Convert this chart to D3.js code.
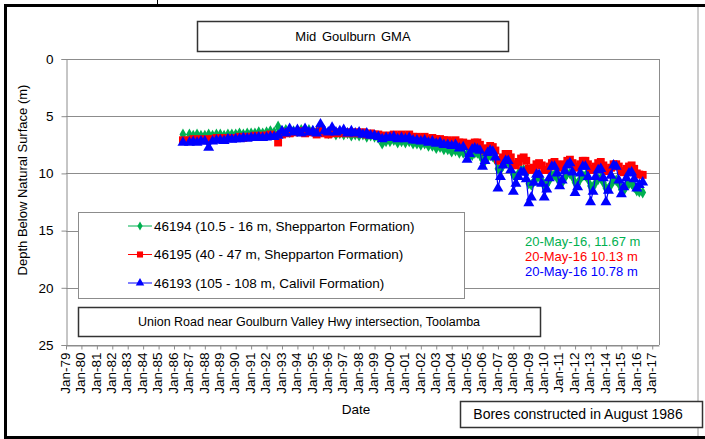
<!DOCTYPE html>
<html>
<head>
<meta charset="utf-8">
<script src="https://cdn.jsdelivr.net/npm/d3@7"></script>
<style>
  body { margin: 0; background: #fff; }
  svg { display: block; font-family: 'Liberation Sans', Arial, sans-serif; }
</style>
</head>
<body>
<div class="chart"></div>
<script>
// sample dates (quarterly to 2004, then every second month)
const dates = [
  '1986-08',
  '1987-01', '1987-04', '1987-07', '1987-10',
  '1988-01', '1988-04', '1988-07', '1988-10',
  '1989-01', '1989-04', '1989-07', '1989-10',
  '1990-01', '1990-04', '1990-07', '1990-10',
  '1991-01', '1991-04', '1991-07', '1991-10',
  '1992-01', '1992-04', '1992-07', '1992-10',
  '1993-01', '1993-04', '1993-07', '1993-10',
  '1994-01', '1994-04', '1994-07', '1994-10',
  '1995-01', '1995-04', '1995-07', '1995-10',
  '1996-01', '1996-04', '1996-07', '1996-10',
  '1997-01', '1997-04', '1997-07', '1997-10',
  '1998-01', '1998-04', '1998-07', '1998-10',
  '1999-01', '1999-04', '1999-07', '1999-10',
  '2000-01', '2000-04', '2000-07', '2000-10',
  '2001-01', '2001-04', '2001-07', '2001-10',
  '2002-01', '2002-04', '2002-07', '2002-10',
  '2003-01', '2003-04', '2003-07', '2003-10',
  '2004-01', '2004-04', '2004-07', '2004-10',
  '2005-01', '2005-03', '2005-05', '2005-07', '2005-09', '2005-11',
  '2006-01', '2006-03', '2006-05', '2006-07', '2006-09', '2006-11',
  '2007-01', '2007-03', '2007-05', '2007-07', '2007-09', '2007-11',
  '2008-01', '2008-03', '2008-05', '2008-07', '2008-09', '2008-11',
  '2009-01', '2009-03', '2009-05', '2009-07', '2009-09', '2009-11',
  '2010-01', '2010-03', '2010-05', '2010-07', '2010-09', '2010-11',
  '2011-01', '2011-03', '2011-05', '2011-07', '2011-09', '2011-11',
  '2012-01', '2012-03', '2012-05', '2012-07', '2012-09', '2012-11',
  '2013-01', '2013-03', '2013-05', '2013-07', '2013-09', '2013-11',
  '2014-01', '2014-03', '2014-05', '2014-07', '2014-09', '2014-11',
  '2015-01', '2015-03', '2015-05', '2015-07', '2015-09', '2015-11',
  '2016-01', '2016-03', '2016-05-20'
];

// 46194 (10.5 - 16 m, Shepparton Formation)
const bore46194 = [
  6.6,
  6.6, 6.7, 6.6, 6.7,
  6.7, 6.6, 6.7, 6.6,
  6.6, 6.7, 6.6, 6.6,
  6.6, 6.5, 6.6, 6.5,
  6.5, 6.5, 6.4, 6.5,
  6.4, 6.3, 6.4, 5.9,
  6.3, 6.2, 6.4, 6.3,
  6.3, 6.2, 6.3, 6.2,
  6.3, 6.4, 6.2, 6.3,
  6.5, 6.4, 6.6, 6.5,
  6.6, 6.5, 6.7, 6.6,
  6.7, 6.6, 6.8, 6.7,
  6.8, 6.9, 7.4, 7.2,
  7.2, 7.1, 7.3, 7.2,
  7.3, 7.2, 7.4, 7.4,
  7.5, 7.4, 7.6, 7.6,
  7.8, 7.7, 7.9, 7.9,
  8.1, 8.0, 8.2, 8.2,
  8.3, 8.5, 8.4, 8.2, 8.2, 8.4,
  8.8, 8.9, 8.6, 8.4, 8.5, 8.8,
  9.6, 9.7, 9.3, 9.0, 9.0, 9.4,
  10.1, 10.3, 10.0, 9.7, 9.7, 10.0,
  10.9, 11.0, 10.7, 10.4, 10.3, 10.6,
  11.0, 11.0, 10.6, 10.2, 10.1, 10.4,
  10.7, 10.8, 10.4, 10.0, 10.0, 10.3,
  10.8, 10.9, 10.5, 10.2, 10.2, 10.5,
  11.1, 11.2, 10.8, 10.5, 10.4, 10.8,
  11.3, 11.3, 11.0, 10.6, 10.6, 10.9,
  11.4, 11.5, 11.1, 10.9, 10.9, 11.2,
  11.5, 11.6, 11.67
];

// 46195 (40 - 47 m, Shepparton Formation)
const bore46195 = [
  7.1,
  7.1, 7.0, 7.1, 7.0,
  7.1, 7.0, 7.0, 6.9,
  6.9, 7.0, 6.9, 6.9,
  6.9, 6.8, 6.9, 6.8,
  6.8, 6.7, 6.8, 6.7,
  6.7, 6.6, 6.7, 7.3,
  6.6, 6.4, 6.5, 6.4,
  6.4, 6.3, 6.5, 6.4,
  6.4, 6.6, 6.3, 6.5,
  6.6, 6.4, 6.5, 6.4,
  6.5, 6.4, 6.5, 6.4,
  6.5, 6.4, 6.6, 6.5,
  6.6, 6.6, 6.7, 6.7,
  6.7, 6.6, 6.7, 6.6,
  6.7, 6.6, 6.8, 6.8,
  6.9, 6.8, 7.0, 6.9,
  7.0, 7.0, 7.1, 7.1,
  7.2, 7.1, 7.3, 7.3,
  7.4, 7.6, 7.5, 7.3, 7.3, 7.5,
  7.9, 8.0, 7.8, 7.6, 7.7, 8.0,
  8.8, 8.9, 8.6, 8.3, 8.3, 8.6,
  9.2, 9.3, 9.0, 8.7, 8.6, 8.9,
  9.6, 9.7, 9.5, 9.2, 9.1, 9.3,
  9.7, 9.7, 9.4, 9.1, 9.0, 9.2,
  9.4, 9.5, 9.2, 8.9, 8.8, 9.1,
  9.4, 9.5, 9.2, 8.9, 8.9, 9.2,
  9.6, 9.7, 9.4, 9.1, 9.0, 9.3,
  9.7, 9.8, 9.5, 9.2, 9.2, 9.4,
  9.8, 9.9, 9.6, 9.4, 9.3, 9.6,
  10.0, 10.1, 10.13
];

// 46193 (105 - 108 m, Calivil Formation)
const bore46193 = [
  7.3,
  7.3, 7.25, 7.3, 7.2,
  7.2, 7.75, 7.2, 7.1,
  7.1, 7.15, 7.0, 7.05,
  7.0, 7.0, 6.9, 6.95,
  6.9, 6.9, 6.85, 6.9,
  6.85, 6.8, 6.8, 6.7,
  6.3, 6.5, 6.1, 6.4,
  6.2, 6.5, 6.1, 6.4,
  6.3, 6.5, 5.7, 6.3,
  6.4, 6.0, 6.4, 6.3,
  6.2, 6.5, 6.3, 6.5,
  6.4, 6.6, 6.5, 6.7,
  6.7, 6.8, 7.0, 6.9,
  6.9, 6.8, 7.0, 6.9,
  7.0, 6.9, 7.1, 7.1,
  7.2, 7.1, 7.3, 7.2,
  7.4, 7.3, 7.5, 7.5,
  7.6, 7.5, 7.8, 7.7,
  8.8, 8.3, 7.9, 7.8, 7.9, 8.0,
  9.4, 8.9, 8.2, 8.0, 8.1, 8.6,
  11.3, 10.3, 9.3, 8.9, 8.9, 9.7,
  11.6, 10.9, 10.3, 9.9, 9.9, 10.5,
  12.6, 12.1, 10.8, 10.1, 10.1, 10.9,
  12.1, 11.4, 10.4, 9.4, 9.4, 10.0,
  11.1, 10.6, 9.8, 9.3, 9.1, 9.9,
  11.7, 11.2, 10.0, 9.4, 9.4, 10.3,
  12.5, 11.6, 10.3, 9.7, 9.6, 10.4,
  12.5, 11.5, 10.2, 9.3, 9.4, 10.6,
  11.8, 11.2, 10.4, 10.0, 9.9, 10.5,
  11.3, 11.0, 10.78
];

const seriesNames = [
  '46194 (10.5 - 16 m, Shepparton Formation)',
  '46195 (40 - 47 m, Shepparton Formation)',
  '46193 (105 - 108 m, Calivil Formation)'
];
const latestNotes = ['20-May-16, 11.67 m', '20-May-16 10.13 m', '20-May-16 10.78 m'];
const yTicks = [0, 5, 10, 15, 20, 25];
const xTickYears = d3.range(1979, 2018);

const colors = ['#00b050', '#ff0000', '#0000ff'];
const shapes = [d3.symbolDiamond, d3.symbolSquare, d3.symbolTriangle];
const sizes = [40, 62, 52];

const parseDate = d3.timeParse('%Y-%m');
const parseDay = d3.timeParse('%Y-%m-%d');
const toDate = s => parseDate(s) || parseDay(s);

const width = 705;
const height = 439;
const svg = d3.select('.chart').append('svg')
  .attr('width', width)
  .attr('height', height);

const x = d3.scaleTime()
  .domain([new Date(1979, 0, 1), new Date(2017, 5, 10)])
  .range([66, 659]);
const y = d3.scaleLinear()
  .domain([0, 25])
  .range([59, 345]);

// outer frame
svg.append('line').attr('x1', 698).attr('x2', 698).attr('y1', 6).attr('y2', 437)
  .attr('stroke', '#9a9a9a').attr('stroke-width', 1);
svg.append('path').attr('d', 'M5.5,440 V5.5 H710')
  .attr('fill', 'none').attr('stroke', '#000').attr('stroke-width', 3);
svg.append('line').attr('x1', 4).attr('x2', 710).attr('y1', 437.5).attr('y2', 437.5)
  .attr('stroke', '#000').attr('stroke-width', 3);
svg.append('line').attr('x1', 157.5).attr('x2', 157.5).attr('y1', 0).attr('y2', 5)
  .attr('stroke', '#000').attr('stroke-width', 1);

// gridlines
svg.append('g')
  .selectAll('line')
  .data(yTicks)
  .enter()
  .append('line')
  .attr('x1', 66)
  .attr('x2', 659)
  .attr('y1', d => Math.round(y(d)) + 0.5)
  .attr('y2', d => Math.round(y(d)) + 0.5)
  .attr('stroke', '#8c8c8c');
svg.append('line').attr('x1', 659.5).attr('x2', 659.5).attr('y1', 59).attr('y2', 345)
  .attr('stroke', '#8c8c8c');

// axes
const yAxis = svg.append('g')
  .attr('transform', 'translate(66.5,0)')
  .call(d3.axisLeft(y).tickValues(yTicks).tickSize(5).tickPadding(8));
yAxis.select('.domain').attr('stroke', '#8c8c8c');
yAxis.selectAll('.tick line').attr('stroke', '#8c8c8c');
yAxis.selectAll('text').attr('font-size', 13.5).attr('fill', '#000')
  .attr('font-family', "'Liberation Sans', Arial, sans-serif");

const xAxis = svg.append('g')
  .attr('transform', 'translate(0,345.5)')
  .call(d3.axisBottom(x)
    .tickValues(xTickYears.map(yr => new Date(yr, 0, 1)))
    .tickFormat(d3.timeFormat('%b-%y'))
    .tickSize(4)
    .tickSizeOuter(0));
xAxis.select('.domain').attr('stroke', '#8c8c8c');
xAxis.selectAll('.tick line').attr('stroke', '#8c8c8c');
xAxis.selectAll('text')
  .attr('font-size', 13.5)
  .attr('fill', '#000')
  .attr('font-family', "'Liberation Sans', Arial, sans-serif")
  .attr('transform', 'rotate(-90)')
  .attr('x', -7)
  .attr('y', -1.5)
  .attr('dy', '0.35em')
  .style('text-anchor', 'end');

svg.append('text')
  .attr('transform', 'translate(22,180) rotate(-90)')
  .attr('text-anchor', 'middle')
  .attr('dy', '0.35em')
  .attr('font-size', 13)
  .text('Depth Below Natural Surface (m)');

svg.append('text')
  .attr('x', 356)
  .attr('y', 414)
  .attr('text-anchor', 'middle')
  .attr('font-size', 13.5)
  .text('Date');

// series
const allSeries = [bore46194, bore46195, bore46193];
allSeries.forEach((vals, i) => {
  const pts = vals.map((v, j) => ({ date: toDate(dates[j]), depth: v }));
  const g = svg.append('g');
  g.append('path')
    .datum(pts)
    .attr('fill', 'none')
    .attr('stroke', colors[i])
    .attr('stroke-width', 1.2)
    .attr('d', d3.line().x(d => x(d.date)).y(d => y(d.depth)));
  g.selectAll('path.pt')
    .data(pts)
    .enter()
    .append('path')
    .attr('class', 'pt')
    .attr('transform', d => `translate(${x(d.date)},${y(d.depth)})`)
    .attr('d', d3.symbol().type(shapes[i]).size(sizes[i]))
    .attr('fill', colors[i]);
});

// boxes
function box(x0, y0, w, h, stroke, sw) {
  return svg.append('rect')
    .attr('x', x0).attr('y', y0).attr('width', w).attr('height', h)
    .attr('fill', '#fff').attr('stroke', stroke).attr('stroke-width', sw);
}

box(197.5, 21.5, 311, 30, '#333', 1.5);
svg.append('text')
  .attr('x', 353).attr('y', 36.5).attr('dy', '0.35em')
  .attr('text-anchor', 'middle').attr('font-size', 13)
  .attr('word-spacing', 2)
  .text('Mid Goulburn GMA');

// legend
box(78.5, 212.5, 386, 86, '#8c8c8c', 1);
const legend = svg.append('g')
  .selectAll('g')
  .data(seriesNames)
  .enter()
  .append('g')
  .attr('transform', (d, i) => `translate(0,${226 + i * 28.5})`);
legend.append('line')
  .attr('x1', 128).attr('x2', 152)
  .attr('stroke', (d, i) => colors[i]);
legend.append('path')
  .attr('transform', 'translate(140,0)')
  .attr('d', (d, i) => d3.symbol().type(shapes[i]).size(sizes[i] * 0.6)())
  .attr('fill', (d, i) => colors[i]);
legend.append('text')
  .attr('x', 154)
  .attr('dy', '0.35em')
  .attr('font-size', 13.5)
  .text(d => d);

box(78.5, 307.5, 462, 29, '#333', 1.5);
svg.append('text')
  .attr('x', 309).attr('y', 322).attr('dy', '0.35em')
  .attr('text-anchor', 'middle').attr('font-size', 12.5)
  .text('Union Road near Goulburn Valley Hwy intersection, Toolamba');

box(460.5, 401.5, 242, 26, '#333', 1.5);
svg.append('text')
  .attr('x', 578).attr('y', 414.5).attr('dy', '0.35em')
  .attr('text-anchor', 'middle').attr('font-size', 14)
  .text('Bores constructed in August 1986');

// latest readings
svg.append('g')
  .selectAll('text')
  .data(latestNotes)
  .enter()
  .append('text')
  .attr('x', 525)
  .attr('y', (d, i) => 246 + i * 15)
  .attr('font-size', 13)
  .attr('fill', (d, i) => colors[i])
  .text(d => d);
</script>
</body>
</html>
